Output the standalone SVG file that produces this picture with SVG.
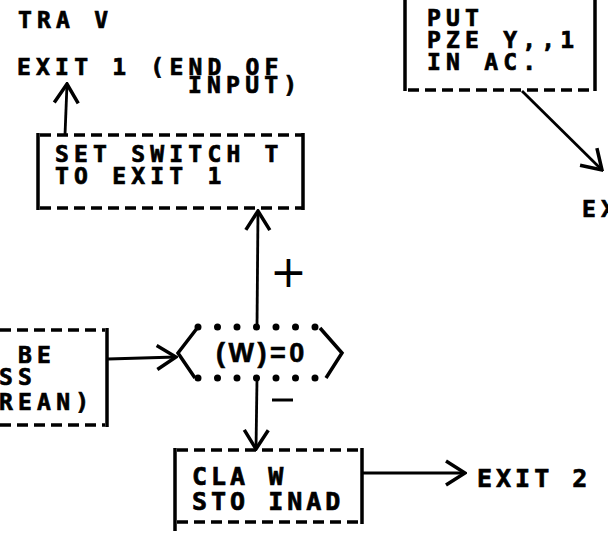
<svg xmlns="http://www.w3.org/2000/svg" width="608" height="533" viewBox="0 0 608 533">
<defs>
<style>
.t{font-family:"DejaVu Sans Mono","Liberation Mono",monospace;font-weight:bold;font-size:23px;letter-spacing:5.2px;fill:#000;stroke:#000;stroke-width:0.7}
.big{font-size:25px;letter-spacing:4px}
.hex{font-family:"Liberation Sans",Arial,sans-serif;font-weight:bold;font-size:27px;letter-spacing:3.5px;fill:#000;stroke:#000;stroke-width:0.6}
.dash{fill:none;stroke:#000;stroke-width:3.5;stroke-dasharray:11 6}
.solid{fill:none;stroke:#000;stroke-width:3.5}
.dots{fill:none;stroke:#000;stroke-width:7;stroke-linecap:round;stroke-dasharray:0 19.5}
.conn{fill:none;stroke:#000;stroke-width:2.8;marker-end:url(#chev)}
.hand{font-family:"DejaVu Sans",sans-serif;fill:#000}
</style>
<marker id="chev" viewBox="0 0 24 28" refX="22" refY="14" markerWidth="24" markerHeight="28" markerUnits="userSpaceOnUse" orient="auto">
<path d="M3,2 L22,14 L3,26" fill="none" stroke="#000" stroke-width="3.5" stroke-linejoin="miter"/>
</marker>
</defs>
<rect width="608" height="533" fill="#fff"/>

<g id="tra-v">
<text class="t" x="18" y="28">TRA V</text>
</g>

<g id="exit1">
<text class="t" x="17" y="75">EXIT 1 (END OF</text>
<text class="t" x="188" y="93">INPUT)</text>
</g>

<g id="set-switch">
<path class="dash" d="M40,135 H302 M40,208 H302"/>
<path class="solid" d="M38,133 V210 M303,133 V210"/>
<text class="t" x="55" y="162">SET SWITCH T</text>
<text class="t" x="55" y="184">TO EXIT 1</text>
</g>

<g id="put-pze">
<path class="dash" d="M408,90 H593"/>
<path class="solid" d="M405,0 V91 M595,0 V91"/>
<text class="t" x="427" y="26">PUT</text>
<text class="t" x="427" y="48">PZE Y,,1</text>
<text class="t" x="427" y="70">IN AC.</text>
</g>

<g id="exit-right">
<text class="t" x="582" y="217">EXIT</text>
</g>

<g id="left-box">
<path class="dash" d="M0,330 H105 M0,425 H105"/>
<path class="solid" d="M107,328 V427"/>
<text class="t" x="18" y="363">BE</text>
<text class="t" x="-1" y="385">SS</text>
<text class="t" x="-1" y="410">REAN)</text>
</g>

<g id="test-w">
<path class="solid" d="M198,327 L178,353 L195,378 M320,328 L342,353 L326,378"/>
<path class="dots" d="M198,327 H320 M198,378 H320"/>
<text class="hex" x="216" y="362">(W)=0</text>
</g>

<g id="cla-w">
<path class="dash" d="M177,450 H360 M177,522 H360"/>
<path class="solid" d="M175,448 V531 M362,448 V524"/>
<text class="t big" x="192" y="485">CLA W</text>
<text class="t big" x="192" y="510">STO INAD</text>
</g>

<g id="exit2">
<text class="t big" x="477" y="487">EXIT 2</text>
</g>

<g id="connectors">
<line class="conn" x1="65" y1="135" x2="67" y2="84"/>
<line class="conn" x1="257" y1="326" x2="258" y2="211"/>
<line class="conn" x1="108" y1="359" x2="176" y2="357"/>
<line class="conn" x1="257" y1="379" x2="256" y2="449"/>
<line class="conn" x1="363" y1="473" x2="465" y2="473"/>
<line class="conn" x1="522" y1="91" x2="602" y2="170"/>
<text class="hand" x="270" y="287" font-size="44">+</text>
<path d="M272,400 H293" stroke="#000" stroke-width="3"/>
</g>
</svg>
